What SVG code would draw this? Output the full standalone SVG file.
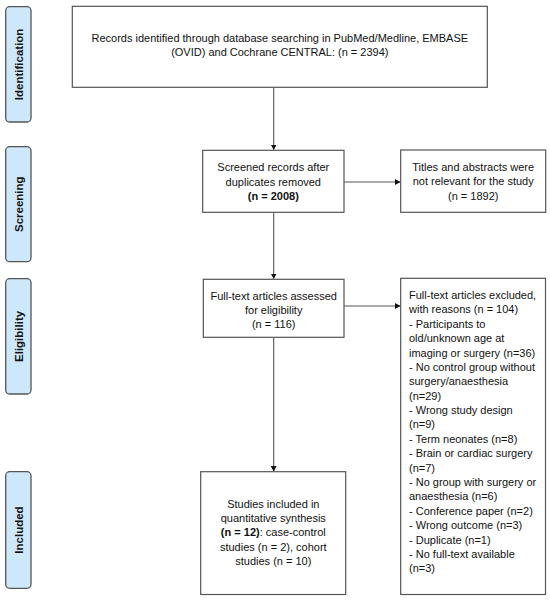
<svg xmlns="http://www.w3.org/2000/svg" width="550" height="601" viewBox="0 0 550 601">
<defs>
<style>
.box{fill:#fff;stroke:#555;stroke-width:1.2}
.lab{fill:#cde8fb;stroke:#555;stroke-width:1.3}
.t{font-family:"Liberation Sans",Arial,sans-serif;font-size:11px;fill:#111}
.c{text-anchor:middle}
.lt{font-family:"Liberation Sans",Arial,sans-serif;font-size:11.5px;font-weight:bold;fill:#111;text-anchor:middle}
.b{font-weight:bold}
.ln{fill:none;stroke:#555;stroke-width:1.1}
</style>
<marker id="ah" markerWidth="6" markerHeight="6" refX="5" refY="3" orient="auto" markerUnits="userSpaceOnUse">
<path d="M0,0 L5.5,3 L0,6 Z" fill="#111"/>
</marker>
</defs>
<rect width="550" height="601" fill="#fff"/>
<g id="stage-labels">
<g id="lab-identification"><rect class="lab" x="5.7" y="6.7" width="25.3" height="115.3" rx="4"/><text class="lt" transform="translate(23,64.4) rotate(-90)">Identification</text></g>
<g id="lab-screening"><rect class="lab" x="5.7" y="146.7" width="25.3" height="115" rx="4"/><text class="lt" transform="translate(23,204.2) rotate(-90)">Screening</text></g>
<g id="lab-eligibility"><rect class="lab" x="5.7" y="278.7" width="25.3" height="115.3" rx="4"/><text class="lt" transform="translate(23,336.4) rotate(-90)">Eligibility</text></g>
<g id="lab-included"><rect class="lab" x="5.7" y="471.7" width="25.3" height="116.6" rx="4"/><text class="lt" transform="translate(23,530) rotate(-90)">Included</text></g>
</g>
<g id="connectors">
<line class="ln" x1="273.7" y1="87.3" x2="273.7" y2="149.5" marker-end="url(#ah)"/>
<line class="ln" x1="344" y1="182" x2="400" y2="182" marker-end="url(#ah)"/>
<line class="ln" x1="273.7" y1="212.3" x2="273.7" y2="278.5" marker-end="url(#ah)"/>
<line class="ln" x1="344" y1="306" x2="400" y2="306" marker-end="url(#ah)"/>
<line class="ln" x1="273.7" y1="337.3" x2="273.7" y2="471" marker-end="url(#ah)"/>
</g>
<g id="n-records">
<rect class="box" x="72.3" y="6.3" width="415" height="81"/>
<text class="t c" x="279.8" y="41.5">Records identified through database searching in PubMed/Medline, EMBASE</text>
<text class="t c" x="279.8" y="56">(OVID) and Cochrane CENTRAL: (n = 2394)</text>
</g>
<g id="n-screened">
<rect class="box" x="202.7" y="150.3" width="141.3" height="62"/>
<text class="t c" x="273.3" y="171.3">Screened records after</text>
<text class="t c" x="273.3" y="185.6">duplicates removed</text>
<text class="t c b" x="273.3" y="200">(n = 2008)</text>
</g>
<g id="n-titles">
<rect class="box" x="400.7" y="150" width="145" height="62.3"/>
<text class="t c" x="473.2" y="170.5">Titles and abstracts were</text>
<text class="t c" x="473.2" y="185">not relevant for the study</text>
<text class="t c" x="473.2" y="199.5">(n = 1892)</text>
</g>
<g id="n-fulltext">
<rect class="box" x="203.3" y="279.3" width="140.7" height="58"/>
<text class="t c" x="273.7" y="299.7">Full-text articles assessed</text>
<text class="t c" x="273.7" y="314">for eligibility</text>
<text class="t c" x="273.7" y="328.3">(n = 116)</text>
</g>
<g id="n-excluded">
<rect class="box" x="400.7" y="278.3" width="144.8" height="316.2"/>
<text class="t" x="409" y="299">Full-text articles excluded,</text>
<text class="t" x="409" y="313.4">with reasons (n = 104)</text>
<text class="t" x="409" y="327.8">- Participants to</text>
<text class="t" x="409" y="342.1">old/unknown age at</text>
<text class="t" x="409" y="356.5">imaging or surgery (n=36)</text>
<text class="t" x="409" y="370.9">- No control group without</text>
<text class="t" x="409" y="385.3">surgery/anaesthesia</text>
<text class="t" x="409" y="399.7">(n=29)</text>
<text class="t" x="409" y="414">- Wrong study design</text>
<text class="t" x="409" y="428.4">(n=9)</text>
<text class="t" x="409" y="442.8">- Term neonates (n=8)</text>
<text class="t" x="409" y="457.2">- Brain or cardiac surgery</text>
<text class="t" x="409" y="471.6">(n=7)</text>
<text class="t" x="409" y="485.9">- No group with surgery or</text>
<text class="t" x="409" y="500.3">anaesthesia (n=6)</text>
<text class="t" x="409" y="514.7">- Conference paper (n=2)</text>
<text class="t" x="409" y="529.1">- Wrong outcome (n=3)</text>
<text class="t" x="409" y="543.5">- Duplicate (n=1)</text>
<text class="t" x="409" y="557.8">- No full-text available</text>
<text class="t" x="409" y="572.2">(n=3)</text>
</g>
<g id="n-included">
<rect class="box" x="200.7" y="471.7" width="145" height="122.8"/>
<text class="t c" x="273.3" y="507.5">Studies included in</text>
<text class="t c" x="273.3" y="521.8">quantitative synthesis</text>
<text class="t c" x="273.3" y="536.1"><tspan class="b">(n = 12)</tspan>: case-control</text>
<text class="t c" x="273.3" y="550.5">studies (n = 2), cohort</text>
<text class="t c" x="273.3" y="564.8">studies (n = 10)</text>
</g>
</svg>
